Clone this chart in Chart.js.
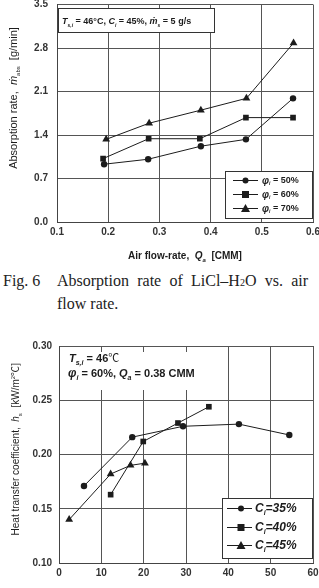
<!DOCTYPE html>
<html lang="en">
<head>
<meta charset="UTF-8">
<title>Absorption rate / heat transfer coefficient</title>
<script src="https://cdn.jsdelivr.net/npm/chart.js"></script>
<style>
    body { margin: 0; background: #fff; width: 319px; height: 588px; overflow: hidden; position: relative; }
    canvas { position: absolute; left: 0; }
    #top { top: 0; }
    #bottom { top: 320px; }
    .cap { position: absolute; font-family: "Liberation Serif", "DejaVu Serif", serif; font-size: 16px; color: #222; white-space: nowrap; }
</style>
</head>
<body>
<canvas id="top" width="319" height="268"></canvas>
<div class="cap" style="left:3px; top:272px;">Fig. 6</div>
<div class="cap" style="left:57px; top:272px; width:251px; text-align:justify; text-align-last:justify;">Absorption rate of LiCl&#8211;H<span style="font-size:10px">2</span>O vs. air</div>
<div class="cap" style="left:57px; top:295px;">flow rate.</div>
<canvas id="bottom" width="319" height="268"></canvas>
<script>
    // Fig. 6 : absorption rate vs air flow-rate
    const topXTicks = [0.1, 0.2, 0.3, 0.4, 0.5, 0.6];
    const topYTicks = [0.0, 0.7, 1.4, 2.1, 2.8, 3.5];
    const topLabels = ['50%', '60%', '70%'];
    const phi50X = [0.192, 0.278, 0.381, 0.469, 0.561];
    const phi50Y = [0.93, 1.01, 1.22, 1.33, 1.99];
    const phi60X = [0.190, 0.279, 0.379, 0.469, 0.561];
    const phi60Y = [1.02, 1.34, 1.34, 1.68, 1.68];
    const phi70X = [0.196, 0.280, 0.381, 0.470, 0.562];
    const phi70Y = [1.33, 1.59, 1.80, 1.99, 2.88];

    // heat transfer coefficient chart
    const botXTicks = [0, 10, 20, 30, 40, 50, 60];
    const botYTicks = [0.10, 0.15, 0.20, 0.25, 0.30];
    const botLabels = ['35%', '40%', '45%'];
    const c35X = [5.9, 17.3, 29.3, 42.5, 54.4];
    const c35Y = [0.171, 0.216, 0.226, 0.228, 0.218];
    const c40X = [12.2, 19.9, 28.1, 35.4];
    const c40Y = [0.163, 0.212, 0.229, 0.244];
    const c45X = [2.4, 12.2, 16.9, 20.3];
    const c45Y = [0.140, 0.182, 0.190, 0.192];

    const SANS = '"Liberation Sans", Arial, "DejaVu Sans", sans-serif';
    const fnt = (size, style) => (style || 'bold') + ' ' + size + 'px ' + SANS;
    const INK = '#1c1c1c';
    const pts = (xs, ys) => xs.map((x, i) => ({x: x, y: ys[i]}));

    // draws a row of text pieces with different fonts / offsets
    function runsWidth(ctx, runs) {
        let w = 0;
        runs.forEach(r => { ctx.font = r.f; w += ctx.measureText(r.t).width; });
        return w;
    }
    function drawRuns(ctx, runs, x, y) {
        let cx = x;
        runs.forEach(r => {
            ctx.font = r.f;
            ctx.fillText(r.t, cx, y + (r.dy || 0));
            cx += ctx.measureText(r.t).width;
        });
        return cx;
    }
    function drawMarker(ctx, style, x, y) {
        ctx.beginPath();
        if (style === 'circle') {
            ctx.arc(x, y, 3, 0, Math.PI * 2);
        } else if (style === 'rect') {
            ctx.rect(x - 3.5, y - 3.5, 7, 7);
        } else {
            ctx.moveTo(x, y - 4.5);
            ctx.lineTo(x + 4.5, y + 3.5);
            ctx.lineTo(x - 4.5, y + 3.5);
            ctx.closePath();
        }
        ctx.fill();
    }

    function makeDataset(label, data, style) {
        return {
            label: label,
            data: data,
            showLine: true,
            borderColor: INK,
            borderWidth: 1,
            backgroundColor: INK,
            pointBackgroundColor: INK,
            pointBorderWidth: 0,
            pointStyle: style,
            pointRadius: style === 'triangle' ? 4.5 : (style === 'rect' ? 4 : 3.2),
            tension: 0
        };
    }

    function scales(xTicks, yTicks, xFmt, yFmt, yWidth, xHeight, yPad) {
        const tickFont = {family: SANS, size: 10, weight: 'bold'};
        return {
            x: {
                type: 'linear',
                min: xTicks[0], max: xTicks[xTicks.length - 1],
                afterBuildTicks: s => { s.ticks = xTicks.map(v => ({value: v})); },
                afterFit: s => { s.height = xHeight; s.paddingLeft = 0; s.paddingRight = 0; },
                ticks: {font: tickFont, color: '#333', padding: 4, maxRotation: 0, autoSkip: false, callback: xFmt},
                grid: {color: '#555', lineWidth: 1, drawTicks: false},
                border: {color: '#444', width: 1}
            },
            y: {
                type: 'linear',
                min: yTicks[0], max: yTicks[yTicks.length - 1],
                afterBuildTicks: s => { s.ticks = yTicks.map(v => ({value: v})); },
                afterFit: s => { s.width = yWidth; s.paddingTop = 0; s.paddingBottom = 0; },
                ticks: {font: tickFont, color: '#333', padding: yPad, autoSkip: false, callback: yFmt},
                grid: {color: '#555', lineWidth: 1, drawTicks: false},
                border: {color: '#444', width: 1}
            }
        };
    }

    // ---------- top chart ----------
    const topDeco = {
        id: 'topDeco',
        beforeDatasetsDraw(chart) {
            const ctx = chart.ctx;
            ctx.save();
            // condition box
            ctx.fillStyle = '#fff';
            ctx.fillRect(58, 8, 156, 24);
            ctx.strokeStyle = '#333';
            ctx.lineWidth = 1;
            ctx.strokeRect(58.5, 8.5, 156, 24);
            ctx.fillStyle = INK;
            ctx.textBaseline = 'alphabetic';
            drawRuns(ctx, [
                {t: 'T', f: fnt(9, 'italic bold')},
                {t: 's,i', f: fnt(5, 'italic bold'), dy: 3},
                {t: ' = 46°C, ', f: fnt(9)},
                {t: 'C', f: fnt(9, 'italic bold')},
                {t: 'i', f: fnt(5, 'italic bold'), dy: 3},
                {t: ' = 45%, ', f: fnt(9)},
                {t: 'ṁ', f: fnt(9, 'italic bold')},
                {t: 's', f: fnt(5, 'italic bold'), dy: 3},
                {t: ' = 5 g/s', f: fnt(9)}
            ], 62, 24);
            ctx.restore();
        },
        afterDatasetsDraw(chart) {
            const ctx = chart.ctx;
            ctx.save();
            // legend
            ctx.fillStyle = '#fff';
            ctx.fillRect(225, 171, 87, 47);
            ctx.strokeStyle = '#333';
            ctx.lineWidth = 1;
            ctx.strokeRect(225.5, 171.5, 87, 47);
            const rows = [180, 194, 208];
            chart.data.datasets.forEach((ds, i) => {
                const y = rows[i];
                ctx.strokeStyle = INK;
                ctx.beginPath();
                ctx.moveTo(233, y + 0.5);
                ctx.lineTo(258, y + 0.5);
                ctx.stroke();
                ctx.fillStyle = INK;
                drawMarker(ctx, ds.pointStyle, 245.5, y + 0.5);
                ctx.textBaseline = 'middle';
                drawRuns(ctx, [
                    {t: 'φ', f: fnt(10, 'italic bold')},
                    {t: 'i', f: fnt(5, 'italic bold'), dy: 3},
                    {t: ' = ' + topLabels[i], f: fnt(9)}
                ], 262, y + 1);
            });
            // axis titles
            ctx.fillStyle = INK;
            ctx.textBaseline = 'alphabetic';
            const xt = [
                {t: 'Air flow-rate,  ', f: fnt(10)},
                {t: 'Q', f: fnt(10, 'italic bold')},
                {t: 'a', f: fnt(6, 'italic bold'), dy: 3},
                {t: '  [CMM]', f: fnt(10)}
            ];
            drawRuns(ctx, xt, 185 - runsWidth(ctx, xt) / 2, 259);
            const yt = [
                {t: 'Absorption rate,  ', f: fnt(11, 'normal')},
                {t: 'ṁ', f: fnt(11, 'italic')},
                {t: 'abs', f: fnt(6, 'normal'), dy: 3},
                {t: '  [g/min]', f: fnt(11, 'normal')}
            ];
            ctx.translate(17, 98);
            ctx.rotate(-Math.PI / 2);
            drawRuns(ctx, yt, -runsWidth(ctx, yt) / 2, 0);
            ctx.restore();
        }
    };

    new Chart(document.getElementById('top').getContext('2d'), {
        type: 'scatter',
        data: {
            datasets: [
                makeDataset('φi = ' + topLabels[0], pts(phi50X, phi50Y), 'circle'),
                makeDataset('φi = ' + topLabels[1], pts(phi60X, phi60Y), 'rect'),
                makeDataset('φi = ' + topLabels[2], pts(phi70X, phi70Y), 'triangle')
            ]
        },
        options: {
            responsive: false,
            animation: false,
            layout: {padding: {top: 4, right: 6, left: 0, bottom: 0}},
            scales: scales(topXTicks, topYTicks, v => v.toFixed(1), v => v.toFixed(1), 57, 46, 9),
            plugins: {legend: {display: false}, tooltip: {enabled: false}}
        },
        plugins: [topDeco]
    });

    // ---------- bottom chart ----------
    const botDeco = {
        id: 'botDeco',
        beforeDatasetsDraw(chart) {
            const ctx = chart.ctx;
            const top = chart.chartArea.top;
            ctx.save();
            // condition text sits on a white patch over the grid
            ctx.fillStyle = '#fff';
            ctx.fillRect(60, top + 6, 162, 38);
            ctx.fillStyle = INK;
            ctx.textBaseline = 'alphabetic';
            drawRuns(ctx, [
                {t: 'T', f: fnt(11, 'italic bold')},
                {t: 's,i', f: fnt(7, 'italic bold'), dy: 3},
                {t: ' = 46', f: fnt(11)},
                {t: '℃', f: '11px "Noto Sans CJK KR", "DejaVu Sans", sans-serif'}
            ], 69, top + 16);
            drawRuns(ctx, [
                {t: 'φ', f: fnt(12, 'italic bold')},
                {t: 'i', f: fnt(7, 'italic bold'), dy: 3},
                {t: ' = 60%, ', f: fnt(11)},
                {t: 'Q', f: fnt(11, 'italic bold')},
                {t: 'a', f: fnt(7, 'italic bold'), dy: 3},
                {t: ' = 0.38 CMM', f: fnt(11)}
            ], 68, top + 31);
            ctx.restore();
        },
        afterDatasetsDraw(chart) {
            const ctx = chart.ctx;
            const top = chart.chartArea.top;
            ctx.save();
            // legend
            const ly = top + 152;
            ctx.fillStyle = '#fff';
            ctx.fillRect(222, ly, 90, 60);
            ctx.strokeStyle = '#333';
            ctx.lineWidth = 1;
            ctx.strokeRect(222.5, ly + 0.5, 90, 60);
            const rows = [ly + 10, ly + 29, ly + 47];
            chart.data.datasets.forEach((ds, i) => {
                const y = rows[i];
                ctx.strokeStyle = INK;
                ctx.beginPath();
                ctx.moveTo(227, y + 0.5);
                ctx.lineTo(252, y + 0.5);
                ctx.stroke();
                ctx.fillStyle = INK;
                drawMarker(ctx, ds.pointStyle, 241, y + 0.5);
                ctx.textBaseline = 'middle';
                drawRuns(ctx, [
                    {t: 'C', f: fnt(12, 'italic bold')},
                    {t: 'i', f: fnt(7, 'italic bold'), dy: 4},
                    {t: '=' + botLabels[i], f: fnt(12, 'italic bold')}
                ], 255, y + 1);
            });
            // y axis title
            ctx.fillStyle = INK;
            ctx.textBaseline = 'alphabetic';
            const yt = [
                {t: 'Heat transfer coefficient,  ', f: fnt(10, 'normal')},
                {t: 'h', f: fnt(10, 'italic')},
                {t: 's', f: fnt(6, 'normal'), dy: 3},
                {t: '  [kW/m', f: fnt(10, 'normal')},
                {t: '2', f: fnt(6, 'normal'), dy: -4},
                {t: '℃]', f: '10px "Noto Sans CJK KR", "DejaVu Sans", sans-serif'}
            ];
            ctx.translate(19, 449 - 320);
            ctx.rotate(-Math.PI / 2);
            drawRuns(ctx, yt, -runsWidth(ctx, yt) / 2, 0);
            ctx.restore();
        }
    };

    new Chart(document.getElementById('bottom').getContext('2d'), {
        type: 'scatter',
        data: {
            datasets: [
                makeDataset('Ci=' + botLabels[0], pts(c35X, c35Y), 'circle'),
                makeDataset('Ci=' + botLabels[1], pts(c40X, c40Y), 'rect'),
                makeDataset('Ci=' + botLabels[2], pts(c45X, c45Y), 'triangle')
            ]
        },
        options: {
            responsive: false,
            animation: false,
            layout: {padding: {top: 26, right: 6, left: 0, bottom: 0}},
            scales: scales(botXTicks, botYTicks, v => String(v), v => v.toFixed(2), 59, 25, 7),
            plugins: {legend: {display: false}, tooltip: {enabled: false}}
        },
        plugins: [botDeco]
    });
</script>
</body>
</html>
